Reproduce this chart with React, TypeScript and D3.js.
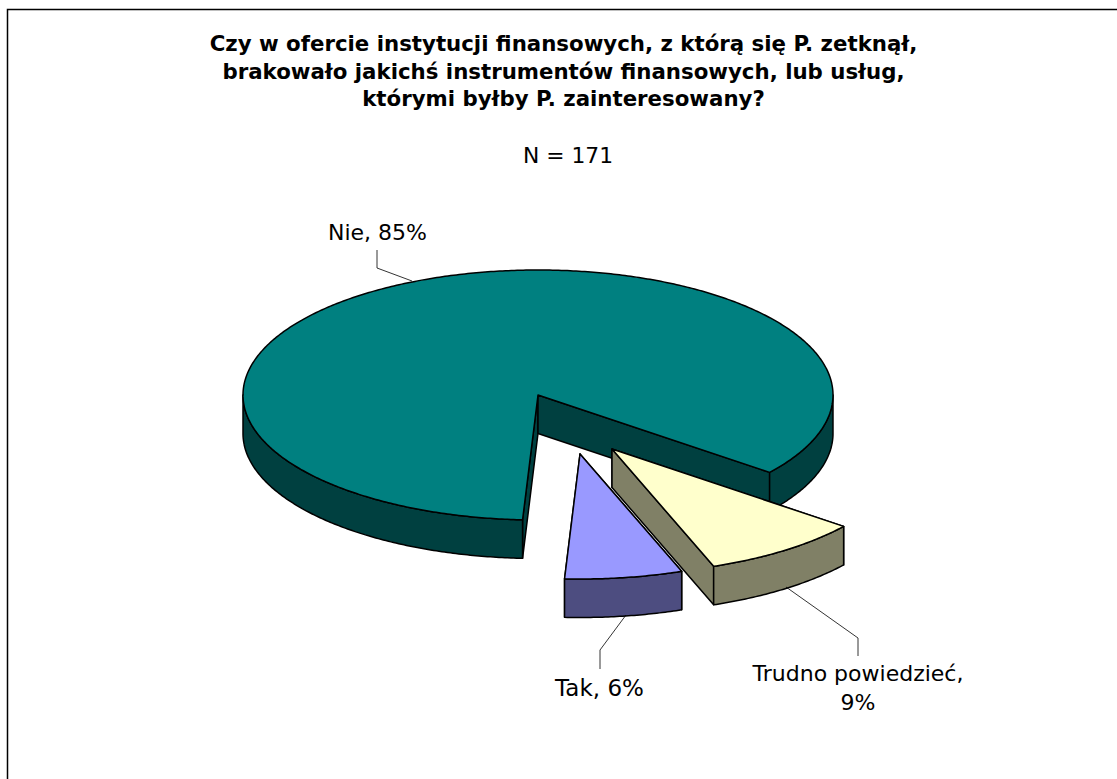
import React from "react";
import * as d3 from "d3";

const categories = ["Nie", "Trudno powiedzieć", "Tak"];
const counts = [145, 15, 11];
const percentLabels = ["85%", "9%", "6%"];
const topColors = ["#008080", "#FFFFCC", "#9999FF"];
const sideColors = ["#004040", "#808066", "#4D4D80"];
const titleLines = [
  "Czy w ofercie instytucji finansowych, z którą się P. zetknął,",
  "brakowało jakichś instrumentów finansowych, lub usług,",
  "którymi byłby P. zainteresowany?",
];
const subtitle = "N = 171";

const width = 1117;
const height = 779;
const cx = 538;
const cy = 395;
const rx = 295;
const ry = 125;
const depth = 38.5;
const startAngle = (183 * Math.PI) / 180;

// how far each slice is pulled out of the pie
const explode = [
  [0, 0],
  [74, 54],
  [42, 59],
];

const font = "'DejaVu Sans', Verdana, sans-serif";

const pie = d3
  .pie<number>()
  .sort(null)
  .startAngle(startAngle)
  .endAngle(startAngle + 2 * Math.PI);

const lineGen = d3.line<number[]>();

const App = () => {
  const slices = pie(counts);

  const point = (i: number, t: number, z = 0) => [
    cx + explode[i][0] + rx * Math.sin(t),
    cy + explode[i][1] - ry * Math.cos(t) + z,
  ];
  const apex = (i: number, z = 0) => [cx + explode[i][0], cy + explode[i][1] + z];
  const arcPts = (i: number, a: number, b: number, z = 0) => {
    const n = Math.max(2, Math.ceil(Math.abs(b - a) / 0.01));
    return d3.range(n + 1).map((k) => point(i, a + ((b - a) * k) / n, z));
  };

  const isFront = (t: number) => Math.cos(t) < 0;

  // outer wall: only the parts of the rim that face the viewer
  const rimWalls = (i: number) => {
    const s = slices[i];
    const parts: number[][][] = [];
    const stops = [s.startAngle, s.endAngle];
    for (let k = -2; k <= 6; k++) {
      const edge = Math.PI / 2 + k * Math.PI;
      if (edge > s.startAngle && edge < s.endAngle) stops.push(edge);
    }
    stops.sort((a, b) => a - b);
    for (let k = 0; k < stops.length - 1; k++) {
      const a = stops[k];
      const b = stops[k + 1];
      if (isFront((a + b) / 2)) {
        parts.push([...arcPts(i, a, b), ...arcPts(i, b, a, depth)]);
      }
    }
    return parts;
  };

  const cutWall = (i: number, t: number) => [
    apex(i),
    point(i, t),
    point(i, t, depth),
    apex(i, depth),
  ];

  const renderSlice = (i: number) => {
    const s = slices[i];
    const sameStyle = {
      stroke: "#000",
      strokeWidth: 1.5,
      strokeLinejoin: "round" as const,
    };
    return (
      <g key={categories[i]}>
        <path d={lineGen(cutWall(i, s.startAngle)) + "Z"} fill={sideColors[i]} {...sameStyle} />
        <path d={lineGen(cutWall(i, s.endAngle)) + "Z"} fill={sideColors[i]} {...sameStyle} />
        {rimWalls(i).map((p, k) => (
          <path key={k} d={lineGen(p) + "Z"} fill={sideColors[i]} {...sameStyle} />
        ))}
        <path
          d={lineGen([apex(i), ...arcPts(i, s.startAngle, s.endAngle)]) + "Z"}
          fill={topColors[i]}
          {...sameStyle}
        />
      </g>
    );
  };

  const leaders = [
    [[377, 250], [377, 268], [412, 281]],
    [[786, 587], [858, 638], [858, 656]],
    [[626, 615], [600, 650], [600, 669]],
  ];

  return (
    <svg
      width={width}
      height={height}
      style={{ position: "absolute", left: 0, top: 0, background: "#fff" }}
    >
      {/* frame only shows on the top and left, the rest is cut off by the page */}
      <path d={`M${width},9.5H7.5V${height}`} fill="none" stroke="#000" strokeWidth={1.5} />

      <g fontFamily={font} fontWeight="bold" fontSize={21.3} textAnchor="middle" fill="#000">
        {titleLines.map((t, i) => (
          <text key={i} x={563.5} y={51 + i * 27.5}>
            {t}
          </text>
        ))}
      </g>
      <text x={568} y={163} fontFamily={font} fontSize={21.8} textAnchor="middle" fill="#000">
        {subtitle}
      </text>

      {/* back to front */}
      {[0, 1, 2].map(renderSlice)}

      {leaders.map((l, i) => (
        <path key={i} d={lineGen(l) as string} fill="none" stroke="#000" strokeWidth={0.8} />
      ))}

      <g fontFamily={font} fontSize={22} textAnchor="middle" fill="#000">
        <text x={377.5} y={240}>{`${categories[0]}, ${percentLabels[0]}`}</text>
        <text x={858} y={681}>{`${categories[1]},`}</text>
        <text x={858} y={710}>{percentLabels[1]}</text>
        <text x={599.5} y={696} fontSize={23}>{`${categories[2]}, ${percentLabels[2]}`}</text>
      </g>
    </svg>
  );
};

export default App;
